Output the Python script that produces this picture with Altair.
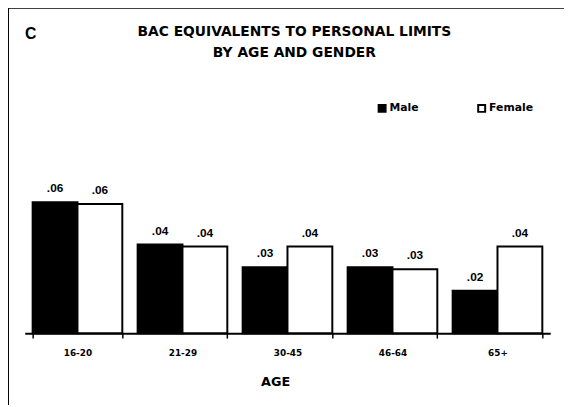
import altair as alt
import pandas as pd

ages = ["16-20", "21-29", "30-45", "46-64", "65+"]
male = [0.0600, 0.0406, 0.0302, 0.0302, 0.0194]
female = [0.0591, 0.0397, 0.0397, 0.0293, 0.0397]
male_labels = [".06", ".04", ".03", ".03", ".02"]
female_labels = [".06", ".04", ".04", ".03", ".04"]
genders = ["Male", "Female"]

rows = []
for i, a in enumerate(ages):
    rows.append({"age": a, "gender": "Male", "bac": male[i], "label": male_labels[i]})
    rows.append({"age": a, "gender": "Female", "bac": female[i], "label": female_labels[i]})
df = pd.DataFrame(rows)

FONT = "Liberation Sans"
WIDE = "DejaVu Sans"

x_enc = alt.X("age:N", sort=ages,
              scale=alt.Scale(paddingInner=0.146, paddingOuter=0.075),
              axis=alt.Axis(title="AGE", labelAngle=0, tickBand="extent",
                            domainColor="black", domainWidth=2,
                            tickColor="black", tickWidth=1.5, tickSize=5,
                            labelPadding=11, labelFont=WIDE, labelFontSize=9,
                            labelFontWeight="bold", labelColor="black",
                            titleFont=WIDE, titleFontSize=13, titleFontWeight="bold",
                            titleColor="black", titlePadding=18, titleX=254,
                            grid=False))
xo_enc = alt.XOffset("gender:N", sort=genders, scale=alt.Scale(paddingInner=0, paddingOuter=0))
y_enc = alt.Y("bac:Q", scale=alt.Scale(domain=[0, 0.0677], nice=False, zero=True), axis=None)

base = alt.Chart(df)

bars = base.mark_bar(stroke="black", strokeWidth=2).encode(
    x=x_enc,
    xOffset=xo_enc,
    y=y_enc,
    color=alt.Color("gender:N", sort=genders,
                    scale=alt.Scale(domain=genders, range=["black", "white"]),
                    legend=alt.Legend(title=None, orient="none", direction="horizontal",
                                      legendX=357, legendY=-84,
                                      symbolType="square", symbolSize=50,
                                      symbolStrokeColor="black", symbolStrokeWidth=2,
                                      symbolOffset=0,
                                      labelFont=WIDE, labelFontSize=11, labelFontWeight="bold",
                                      labelColor="black", labelOffset=2,
                                      columnPadding=55)),
)

labels = base.mark_text(font=FONT, fontSize=12, fontWeight="bold", color="black",
                        dy=-10, baseline="alphabetic").encode(
    x=alt.X("age:N", sort=ages),
    xOffset=alt.XOffset("gender:N", sort=genders),
    y="bac:Q",
    text="label:N",
)

panel_letter = alt.Chart(pd.DataFrame({"t": ["C"]})).mark_text(
    font=FONT, fontSize=16, fontWeight="bold", color="black", align="center", baseline="middle"
).encode(x=alt.value(6), y=alt.value(-153), text="t:N")

frame_left = alt.Chart(pd.DataFrame({"k": [0]})).mark_rule(color="black", strokeWidth=2).encode(
    x=alt.value(-17), y=alt.value(-180), y2=alt.value(230))
frame_top = alt.Chart(pd.DataFrame({"k": [0]})).mark_rule(color="black", strokeWidth=2).encode(
    x=alt.value(-17), x2=alt.value(560), y=alt.value(-180))

chart = alt.layer(bars, labels, panel_letter, frame_left, frame_top).properties(
    width=533, height=150,
    title=alt.TitleParams(text=["BAC EQUIVALENTS TO PERSONAL LIMITS", "BY AGE AND GENDER"],
                          font=WIDE, fontSize=14, fontWeight="bold", color="black",
                          anchor="middle", dx=7, offset=-54, lineHeight=21),
    autosize=alt.AutoSizeParams(type="none"),
    padding={"left": 17, "top": 177, "right": 14, "bottom": 70},
    background="white",
).configure_view(stroke=None)

chart.save("out.html", embed_options={"renderer": "svg", "actions": False})
